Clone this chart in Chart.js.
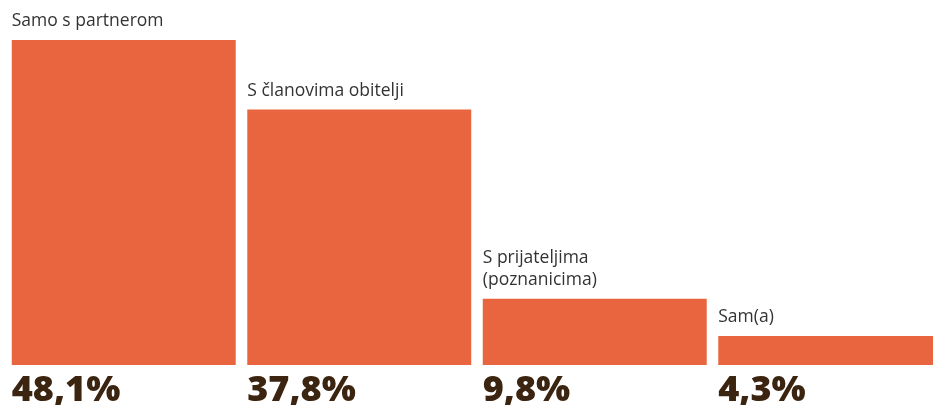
<!DOCTYPE html>
<html lang="hr">
<head>
  <meta charset="UTF-8">
  <title>Samo s partnerom</title>
  <script src="https://cdn.jsdelivr.net/npm/chart.js"></script>
  <style>
    html, body {
      margin: 0;
      padding: 0;
      background: #fff;
      overflow: hidden;
    }
    .wrap {
      position: relative;
      width: 951px;
      height: 405px;
    }
  </style>
</head>
<body>
  <div class="wrap">
    <canvas id="chart"></canvas>
  </div>

  <script>
    // data
    const categories = [
      ["Samo s partnerom"],
      ["S članovima obitelji"],
      ["S prijateljima", "(poznanicima)"],
      ["Sam(a)"]
    ];
    const shares = [48.1, 37.8, 9.8, 4.3];
    const valueLabels = ["48,1%", "37,8%", "9,8%", "4,3%"];

    const barColor = "#e8653f";
    const labelColor = "#333333";
    const valueColor = "#3b2410";

    // category text above each bar, big value below it
    const barText = {
      id: "barText",
      afterDatasetsDraw(chart) {
        const ctx = chart.ctx;
        const meta = chart.getDatasetMeta(0);
        const bottom = chart.chartArea.bottom;
        ctx.save();
        meta.data.forEach((bar, i) => {
          const left = bar.x - bar.width / 2;
          const lines = categories[i];
          ctx.fillStyle = labelColor;
          ctx.font = "17.5px 'Open Sans', sans-serif";
          ctx.textAlign = "left";
          ctx.textBaseline = "alphabetic";
          lines.forEach((line, j) => {
            const y = bar.y - 14 - (lines.length - 1 - j) * 22;
            ctx.fillText(line, left, y);
          });
          ctx.fillStyle = valueColor;
          ctx.font = "800 36px 'Open Sans', sans-serif";
          ctx.fillText(valueLabels[i], left, bottom + 36);
        });
        ctx.restore();
      }
    };

    new Chart(document.getElementById("chart"), {
      type: "bar",
      data: {
        labels: categories.map(c => c.join(" ")),
        datasets: [{
          data: shares,
          backgroundColor: barColor,
          borderWidth: 0,
          barPercentage: 0.951,
          categoryPercentage: 1
        }]
      },
      options: {
        responsive: true,
        maintainAspectRatio: false,
        animation: false,
        layout: {
          padding: { left: 6, right: 3, top: 40, bottom: 40 }
        },
        plugins: {
          legend: { display: false },
          tooltip: { enabled: false }
        },
        scales: {
          x: { display: false },
          y: { display: false, min: 0, max: 48.1 }
        }
      },
      plugins: [barText]
    });
  </script>
</body>
</html>
